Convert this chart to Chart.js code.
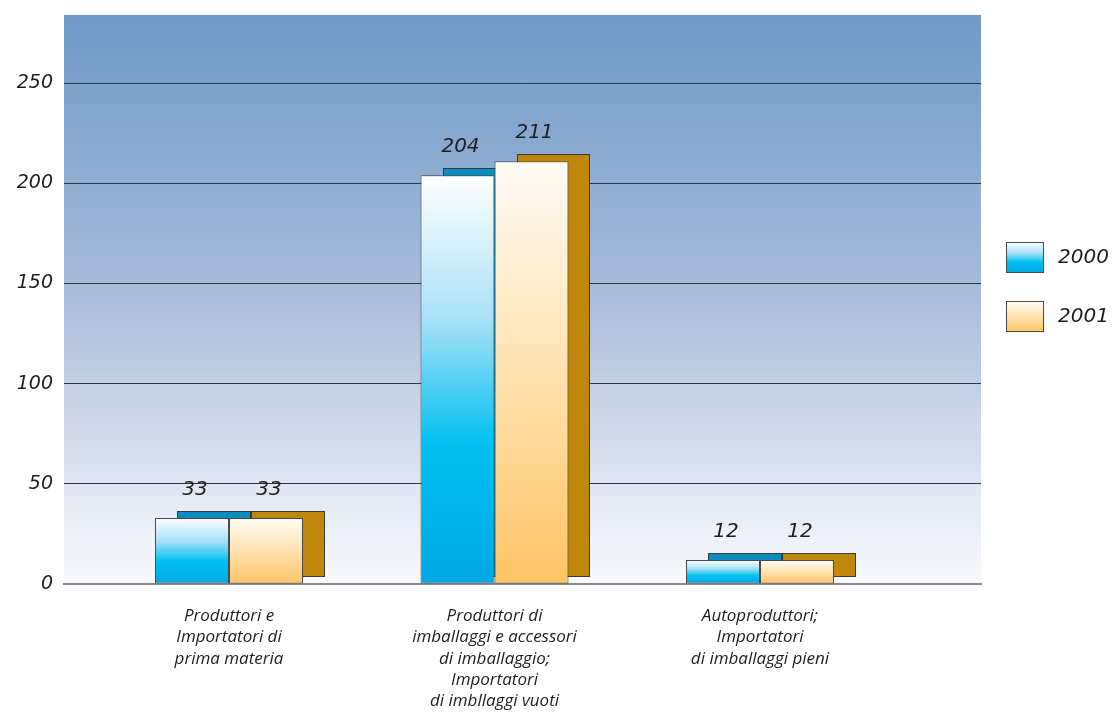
<!DOCTYPE html>
<html>
<head>
<meta charset="utf-8">
<script src="https://cdn.jsdelivr.net/npm/chart.js@4"></script>
<style>
  html, body { margin: 0; padding: 0; background: #ffffff; }
  #wrap { width: 1114px; height: 727px; }
</style>
</head>
<body>
<div id="wrap"><canvas id="chart" width="1114" height="727"></canvas></div>
<script>
// Categories (multi-line axis labels), series names and values
const categories = [
  ['Produttori e', 'Importatori di', 'prima materia'],
  ['Produttori di', 'imballaggi e accessori', 'di imballaggio;', 'Importatori', 'di imbllaggi vuoti'],
  ['Autoproduttori;', 'Importatori', 'di imballaggi pieni']
];
const seriesNames = ['2000', '2001'];
const values2000 = [33, 204, 12];
const values2001 = [33, 211, 12];
const yTickValues = [0, 50, 100, 150, 200, 250];

// Styling
const LABEL_FONT = "'Open Sans', 'DejaVu Sans', sans-serif";
const NUM_FONT = "'DejaVu Sans', sans-serif";
const TEXT = '#1e1e1e';
const DEPTH_X = 22, DEPTH_Y = 7;
const frontStops = [
  [[0, '#ffffff'], [0.35, '#a9e1f7'], [0.66, '#00bff0'], [1, '#00a8e5']],
  [[0, '#fffcf6'], [0.5, '#ffe2b0'], [1, '#ffc465']]
];
const backColors = ['#0a8cc0', '#bf870b'];

function verticalGradient(ctx, top, bottom, stops) {
  const g = ctx.createLinearGradient(0, top, 0, bottom);
  stops.forEach(s => g.addColorStop(s[0], s[1]));
  return g;
}

function frontFill(dsIndex) {
  return function (c) {
    const chart = c.chart;
    const y = chart.scales && chart.scales.y;
    if (c.type !== 'data' || !y || !chart.chartArea) return frontStops[dsIndex][2][1];
    const top = y.getPixelForValue(c.raw.y);
    const bottom = y.getPixelForValue(0);
    return verticalGradient(chart.ctx, top, bottom, frontStops[dsIndex]);
  };
}

// Plot area background: blue fading to near white
const plotBackground = {
  id: 'plotBackground',
  beforeDraw(chart) {
    const { ctx, chartArea: a } = chart;
    ctx.save();
    ctx.fillStyle = verticalGradient(ctx, a.top, a.bottom, [
      [0, '#6e99c7'], [0.48, '#a7bbda'], [0.66, '#c4d0e5'], [0.83, '#e0e6f2'], [1, '#f9fafd']
    ]);
    ctx.fillRect(a.left, a.top, a.right - a.left, a.bottom - a.top);
    ctx.restore();
  }
};

// Rear faces of the bars, offset up and to the right for depth
const barDepth = {
  id: 'barDepth',
  beforeDatasetsDraw(chart) {
    const ctx = chart.ctx;
    ctx.save();
    chart.data.datasets.forEach((ds, d) => {
      chart.getDatasetMeta(d).data.forEach(bar => {
        const p = bar.getProps(['x', 'y', 'base', 'width'], true);
        const l = Math.round(p.x - p.width / 2 + DEPTH_X);
        const r = Math.round(p.x + p.width / 2 + DEPTH_X);
        const t = Math.round(p.y - DEPTH_Y);
        const b = Math.round(p.base - DEPTH_Y);
        ctx.fillStyle = backColors[d];
        ctx.fillRect(l, t, r - l, b - t);
        ctx.strokeStyle = '#3a3a3a';
        ctx.lineWidth = 1;
        ctx.strokeRect(l + 0.5, t + 0.5, r - l - 1, b - t - 1);
      });
    });
    ctx.restore();
  }
};

// Value labels above bars and the legend on the right
const labelsAndLegend = {
  id: 'labelsAndLegend',
  afterDatasetsDraw(chart) {
    const ctx = chart.ctx;
    ctx.save();
    ctx.font = "oblique 20px " + NUM_FONT;
    ctx.fillStyle = TEXT;
    ctx.textAlign = 'center';
    ctx.textBaseline = 'middle';
    chart.data.datasets.forEach((ds, d) => {
      chart.getDatasetMeta(d).data.forEach((bar, i) => {
        const p = bar.getProps(['x', 'y'], true);
        ctx.fillText(String(ds.data[i].y), p.x + 3, p.y - 28);
      });
    });
    ctx.restore();
  },
  afterDraw(chart) {
    const ctx = chart.ctx;
    const a = chart.chartArea;
    ctx.save();
    seriesNames.forEach((name, d) => {
      const bx = a.right + 25, by = 242 + d * 59, bw = 38, bh = 31;
      ctx.fillStyle = verticalGradient(ctx, by, by + bh, frontStops[d]);
      ctx.fillRect(bx, by, bw, bh);
      ctx.strokeStyle = '#4a4a4a';
      ctx.lineWidth = 1;
      ctx.strokeRect(bx + 0.5, by + 0.5, bw - 1, bh - 1);
      ctx.font = "oblique 20px " + NUM_FONT;
      ctx.fillStyle = TEXT;
      ctx.textAlign = 'left';
      ctx.textBaseline = 'middle';
      ctx.fillText(name, bx + 52, by + bh / 2);
    });
    ctx.restore();
  }
};

const valueSets = [values2000, values2001];

new Chart(document.getElementById('chart'), {
  type: 'bar',
  data: {
    datasets: seriesNames.map((name, d) => ({
      label: name,
      data: valueSets[d].map((v, i) => ({ x: i, y: v })),
      backgroundColor: frontFill(d),
      borderColor: '#4a4a4a',
      borderWidth: 1,
      borderSkipped: false,
      barPercentage: 1,
      categoryPercentage: 0.5574
    }))
  },
  options: {
    responsive: false,
    devicePixelRatio: 1,
    animation: false,
    layout: { padding: { top: 15, right: 133, left: 0, bottom: 0 } },
    plugins: { legend: { display: false }, tooltip: { enabled: false } },
    scales: {
      x: {
        type: 'linear',
        min: -0.6215,
        max: 2.8324,
        offset: false,
        grid: { display: false, drawTicks: false },
        border: { display: true, color: '#8a8a8a', width: 2 },
        afterBuildTicks: s => { s.ticks = categories.map((c, i) => ({ value: i })); },
        afterFit: s => { s.height = 143; s.paddingLeft = 0; s.paddingRight = 0; },
        ticks: {
          autoSkip: false,
          maxRotation: 0,
          padding: 22,
          color: TEXT,
          font: { family: LABEL_FONT, size: 17, style: 'italic', lineHeight: 1.24 },
          callback: v => categories[v] || ''
        }
      },
      y: {
        min: 0,
        max: 284,
        grid: {
          drawTicks: false,
          color: c => (c.tick && c.tick.value === 0) ? 'rgba(0,0,0,0)' : '#2e3444',
          lineWidth: 1
        },
        border: { display: false },
        afterBuildTicks: s => { s.ticks = yTickValues.map(v => ({ value: v })); },
        afterFit: s => { s.width = 64; s.paddingTop = 0; s.paddingBottom = 0; },
        ticks: {
          padding: 11,
          color: TEXT,
          font: { family: NUM_FONT, size: 19, style: 'oblique' }
        }
      }
    }
  },
  plugins: [plotBackground, barDepth, labelsAndLegend]
});
</script>
</body>
</html>
